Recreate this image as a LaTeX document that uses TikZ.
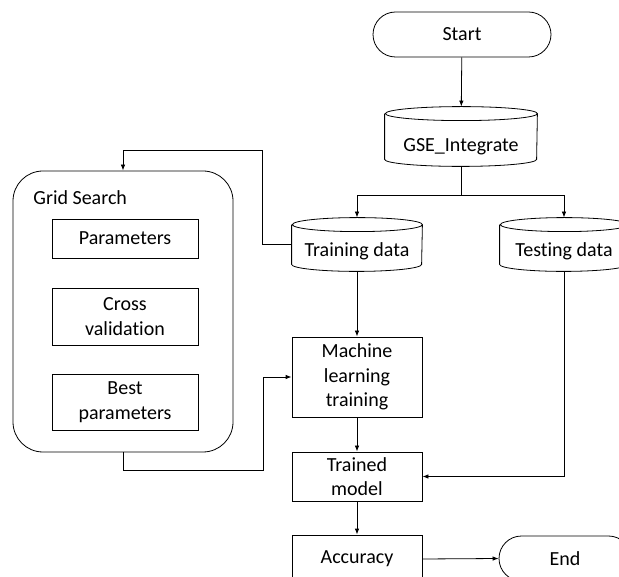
\documentclass[tikz,border=0pt]{standalone}
\usepackage{fontspec}
\setmainfont{Carlito}[Ligatures={NoCommon,NoRequired,NoContextual}]
\usetikzlibrary{arrows.meta}

% database symbol drawn around a (borderless) node: #1 node name, #2 half width
\newcommand\dbshape[2]{%
  \draw ([yshift=-7pt]#1.north west) -- ([yshift=7pt]#1.south west)
    arc[start angle=180,end angle=360,x radius=#2,y radius=7pt]
    -- ([yshift=-7pt]#1.north east)
    arc[start angle=0,end angle=180,x radius=#2,y radius=7pt]
    arc[start angle=180,end angle=360,x radius=#2,y radius=7pt];}

\begin{document}
\begin{tikzpicture}[x=1pt,y=-1pt,line width=0.8pt,
  font=\fontsize{20}{24.5}\selectfont,
  proc/.style={draw,rectangle,inner sep=0pt,minimum width=130pt,align=center},
  inner/.style={draw,rectangle,inner sep=0pt,minimum width=146pt,align=center},
  term/.style={draw,rectangle,rounded corners=22.5pt,minimum height=45pt,inner sep=0pt},
  db/.style={rectangle,inner xsep=0pt,inner ysep=0pt},
  flow/.style={-{Latex[length=6pt,width=4.5pt]}}]

\clip (0,0) rectangle (619,577);
\fill[white] (0,0) rectangle (619,577);

% main column
\node[term,minimum width=178pt] (start) at (462,34.5) {Start};
\node[db,minimum width=152pt,text height=45pt,text depth=14pt] (gse) at (461,136.5) {GSE\_Integrate};
\dbshape{gse}{76pt}
\node[db,minimum width=130pt,text height=39pt,text depth=14pt] (train) at (357,244.5) {Training data};
\dbshape{train}{65pt}
\node[db,minimum width=128pt,text height=39pt,text depth=14pt] (test) at (564,244.5) {Testing data};
\dbshape{test}{64pt}

\node[proc,minimum height=80pt] (ml) at (357,377) {Machine\\learning\\training};
\node[proc,minimum height=49pt] (model) at (357,476.5) {Trained\\model};
\node[proc,minimum height=48pt] (acc) at (357,559) {Accuracy};
\node[term,minimum width=132pt] (end) at (565,558.5) {End};

% grid search group
\node[draw,rectangle,rounded corners=30pt,minimum width=220pt,minimum height=281pt] (grid) at (123,311.5) {};
\node[anchor=base west,inner sep=0pt] (gridlbl) at (33,205) {Grid Search};
\node[inner,minimum height=39pt] (par) at (125,238.5) {Parameters};
\node[inner,minimum height=57pt] (cv) at (125,316.5) {Cross\\validation};
\node[inner,minimum height=56pt] (best) at (125,402) {Best\\parameters};

% connectors
\coordinate (split) at (461,195);
\draw[flow] (start) -- (gse);
\draw (gse.south) -- (split);
\draw[flow] (split) -| (train.north);
\draw[flow] (split) -| (test.north);
\draw[flow] (train.west) -- ++(-29,0) |- (123,150) -- (grid.north);
\draw[flow] (grid.south) -- ++(0,18) -| (263,377) -- (ml.west);
\draw[flow] (train.south) -- (ml.north);
\draw[flow] (ml) -- (model);
\draw[flow] (test.south) |- (model.east);
\draw[flow] (model) -- (acc);
\draw[flow] (acc.east) -- (end.west);
\end{tikzpicture}
\end{document}
